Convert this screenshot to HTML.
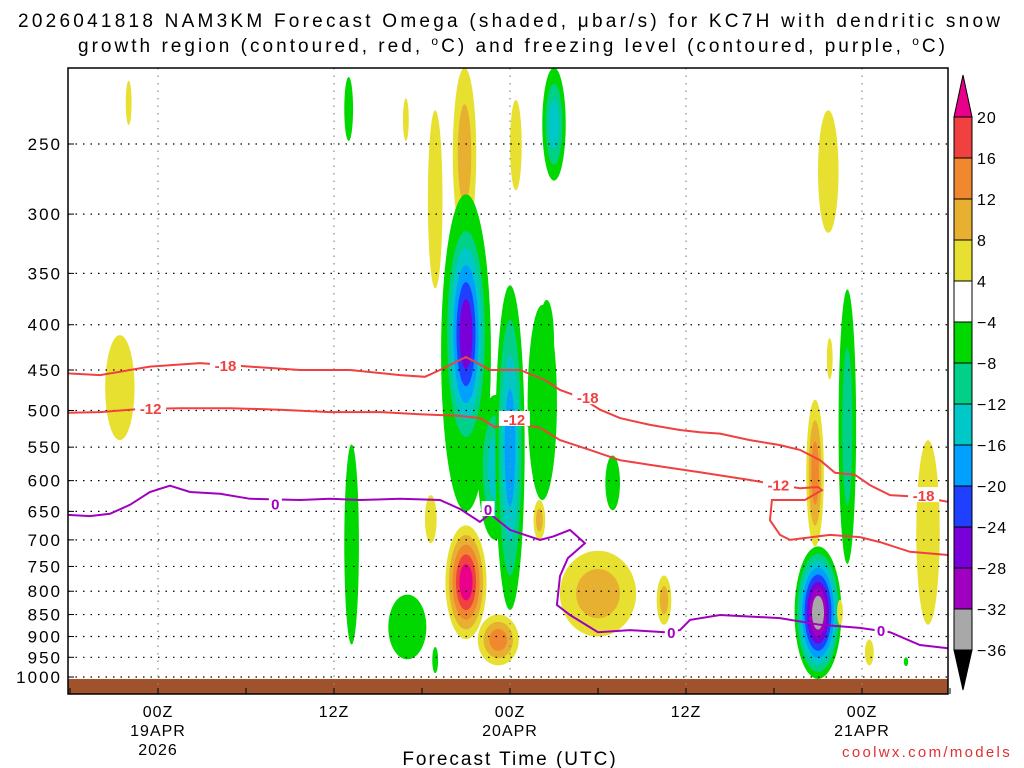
<!DOCTYPE html>
<html><head><meta charset="utf-8"><style>
body{margin:0;background:#fff;width:1024px;height:768px;overflow:hidden}
svg{display:block;font-family:"Liberation Sans",sans-serif}
</style></head><body>
<svg id="c" width="1024" height="768">
<text x="18" y="27" font-size="19" textLength="982" lengthAdjust="spacing">2026041818 NAM3KM Forecast Omega (shaded, μbar/s) for KC7H with dendritic snow</text>
<text x="78" y="52" font-size="19" textLength="867" lengthAdjust="spacing">growth region (contoured, red, <tspan font-size="12" dy="-7">o</tspan><tspan dy="7">C) and freezing level (contoured, purple, </tspan><tspan font-size="12" dy="-7">o</tspan><tspan dy="7">C)</tspan></text>
<g id="plot"></g>
<text x="510" y="765" font-size="19" letter-spacing="2" text-anchor="middle">Forecast Time (UTC)</text>
<text x="1012" y="757" font-size="15" letter-spacing="2.3" fill="#e03030" text-anchor="end">coolwx.com/models</text>
</svg>
<script>
const pTicks=[250,300,350,400,450,500,550,600,650,700,750,800,850,900,950,1000];
const tTicks=[0,12,24,36,48];
const tLabels=["00Z","12Z","00Z","12Z","00Z"];
const tLabels2=["19APR","","20APR","","21APR"];
const levelColorsPos=["#e8e030","#e8b030","#f08830","#f04040","#e8008a"];
const levelColorsNeg=["#00d800","#00d088","#00c8c8","#00a0ff","#2040ff","#7800d8","#a000c0","#a8a8a8"];
const cbLabels=["20","16","12","8","4","-4","-8","-12","-16","-20","-24","-28","-32","-36"];
// blobs: time(h), top p, bottom p, half-width (h), peak level (+/-)
const blobT=[-2,-2.6,13,16.9,18.9,20.9,21,21,23,24,26.2,27,26.5,24.4,31,13.2,17,21,18.6,23.2,26,30,34.5,45.7,45,47,44.8,52.5,45.8,46.5,48.5,51,18.9];
const blobTop=[212,411,210,222,229,205,285,300,480,361,380,205,375,223,562,546,807,674,623,850,631,720,768,229,712,365,486,540,414,818,907,950,925];
const blobBot=[238,540,248,248,364,321,650,560,700,840,631,275,461,282,648,919,955,906,706,970,700,900,873,315,1005,745,712,873,461,873,970,972,990];
const blobHW=[0.2,1.0,0.3,0.2,0.5,0.8,1.7,1.5,1.2,1.0,1.0,0.8,0.5,0.4,0.5,0.5,1.3,1.4,0.4,1.4,0.4,2.6,0.5,0.7,1.6,0.6,0.6,0.8,0.2,0.2,0.3,0.15,0.2];
const blobLvl=[1,1,-1,1,1,2,-1,-6,-3,-4,-1,-3,-1,1,-1,-1,-1,5,1,3,2,2,2,1,-8,-2,3,1,1,1,1,-1,-1];
// contours
const c18T=[-6.14,-3.95,-0.55,2.86,6.27,9.68,13.09,16.5,18.2,19.23,21,22.64,24.68,26.39,27.41,28.77,30.14,31.5,33.55,35.59,36.95,38.32,40.36,42.41,43.77,45.14,46.16,47.52,48.54,49.91,51.95,53.86];
const c18P=[454,456,446,442,446,450,450,456,458,450,435,450,450,462,474,483,499,510,519,526,529,531,540,547,554,569,588,591,607,623,626,634];
const c12T=[-6.14,-3.95,-1.23,1.5,4.91,8.32,11.73,15.14,17.86,20.6,21.95,22.98,24,26.05,27.41,29.45,31.5,33.55,36.95,40.36,42.41,43.77,45,45.27,44.11,41.86,41.73,42.41,43.09,45.82,47.86,49.23,51.27,53.86];
const c12P=[503,502,498,497,497,499,502,502,505,507,510,522,515,523,540,554,569,576,587,599,607,612,610,615,631,631,665,691,700,691,695,704,722,728];
const c0T=[-6.14,-4.64,-3.27,-1.91,-0.55,0.82,2.18,4.23,6.27,9.68,11.73,13.77,16.5,19.23,20.6,21.95,22.64,23.32,24,25.02,26.05,26.93,28.09,29.11,27.95,27.41,27.2,28.09,30,32.18,34.57,35.59,36.27,38.32,42.41,45.14,47.86,49.91,51.95,53.86];
const c0P=[656,658,654,639,618,608,618,621,629,631,629,631,629,631,646,668,654,668,682,691,700,694,682,706,734,769,829,851,890,885,890,885,862,851,858,873,880,890,920,928];
const labels=[["-18",4.6,444,"#f04040"],["-12",-0.5,497,"#f04040"],["0",8,637,"#a000c0"],["-12",24.3,511,"#f04040"],["-18",29.3,483,"#f04040"],["0",22.5,646,"#a000c0"],["0",35,890,"#a000c0"],["-12",42.3,606,"#f04040"],["0",49.3,885,"#a000c0"],["-18",52.2,623,"#f04040"]];

const X0=68,X1=948,Y0=68,Y1=694;
const x=t=>158+t*176/12;
const y=p=>144+384.5*Math.log(p/250);
const NS="http://www.w3.org/2000/svg";
const g=document.getElementById('plot');
function mk(tag,at,parent){const e=document.createElementNS(NS,tag);for(const k in at)e.setAttribute(k,at[k]);(parent||g).appendChild(e);return e;}

const clip=mk('clipPath',{id:'pc'});mk('rect',{x:X0,y:Y0,width:X1-X0,height:Y1-Y0},clip);
const sh=mk('g',{'clip-path':'url(#pc)'});


blobT.forEach((t,i)=>{
  const L=blobLvl[i],n=Math.abs(L);
  const cx=x(t),yt=y(blobTop[i]),yb=y(blobBot[i]);
  const cy=(yt+yb)/2,ry=(yb-yt)/2,rx=blobHW[i]*176/12;
  for(let k=0;k<n;k++){
    const s=1-k/n*0.85;
    const e=mk('ellipse',{cx:cx,cy:cy,rx:rx*s,ry:ry*s,fill:L>0?levelColorsPos[k]:levelColorsNeg[k]},sh);
    
    
  }
});
const gr=mk('rect',{x:X0,y:y(1005),width:X1-X0,height:Y1-y(1005),fill:'#a0522d'});


pTicks.forEach(p=>{
  const l=mk('line',{x1:X0,x2:X1,y1:y(p),y2:y(p),stroke:'#000','stroke-width':1.2,'stroke-dasharray':'1.5 6'});
  
  
  const tx=mk('text',{x:62,y:y(p)+6,'font-size':17,'letter-spacing':2,'text-anchor':'end'});tx.textContent=p;
  
  
  mk('line',{x1:X0,x2:X0+6,y1:y(p),y2:y(p),stroke:'#000'});
});
tTicks.forEach((t,i)=>{
  const l=mk('line',{x1:x(t),x2:x(t),y1:Y0,y2:Y1,stroke:'#888','stroke-width':1.2,'stroke-dasharray':'1.5 6'});
  
  
  const a=mk('text',{x:x(t),y:717,'font-size':16,'letter-spacing':1,'text-anchor':'middle'});a.textContent=tLabels[i];
  
  
  if(tLabels2[i]){const b=mk('text',{x:x(t),y:736,'font-size':16,'letter-spacing':1,'text-anchor':'middle'});b.textContent=tLabels2[i];
  
  }
});
const yr=mk('text',{x:x(0),y:755,'font-size':16,'letter-spacing':1,'text-anchor':'middle'});yr.textContent='2026';


for(let t=-6;t<=54;t+=6){mk('line',{x1:x(t),x2:x(t),y1:Y1,y2:Y1-6,stroke:'#000'});}
function line(T,P,col,name){
  const d=T.map((t,i)=>(i?'L':'M')+x(t).toFixed(1)+','+y(P[i]).toFixed(1)).join('');
  const e=mk('path',{d:d,fill:'none',stroke:col,'stroke-width':2,'clip-path':'url(#pc)'});
  
  
}
line(c18T,c18P,'#f04040','contour-minus18');
line(c12T,c12P,'#f04040','contour-minus12');
line(c0T,c0P,'#a000c0','freezing-level-contour');
labels.forEach(L=>{
  const w=L[0].length*9+4;
  mk('rect',{x:x(L[1])-w/2,y:y(L[2])-8,width:w,height:15,fill:'#fff'});
  const tx=mk('text',{x:x(L[1]),y:y(L[2])+6,'font-size':15,'font-weight':'bold',fill:L[3],'text-anchor':'middle'});tx.textContent=L[0];
  
  
});
const fr=mk('rect',{x:X0,y:Y0,width:X1-X0,height:Y1-Y0,fill:'none',stroke:'#000','stroke-width':1.5});


const cb=mk('g',{});


const cbCols=[levelColorsPos[3],levelColorsPos[2],levelColorsPos[1],levelColorsPos[0],'#ffffff'].concat(levelColorsNeg);
const CX=954,CW=18,CT=117,CH=41;
mk('path',{d:`M${CX},${CT}L${CX+CW/2},75L${CX+CW},${CT}Z`,fill:levelColorsPos[4],stroke:'#000'},cb);
cbCols.forEach((c,i)=>{mk('rect',{x:CX,y:CT+i*CH,width:CW,height:CH,fill:c,stroke:'#000'},cb);});
const cbB=CT+cbCols.length*CH;
mk('path',{d:`M${CX},${cbB}L${CX+CW/2},${cbB+40}L${CX+CW},${cbB}Z`,fill:'#000',stroke:'#000'},cb);
cbLabels.forEach((s,i)=>{const tx=mk('text',{x:977,y:CT+i*CH+6,'font-size':16,'letter-spacing':1},cb);tx.textContent=s.replace('-','−');});
</script>
</body></html>
